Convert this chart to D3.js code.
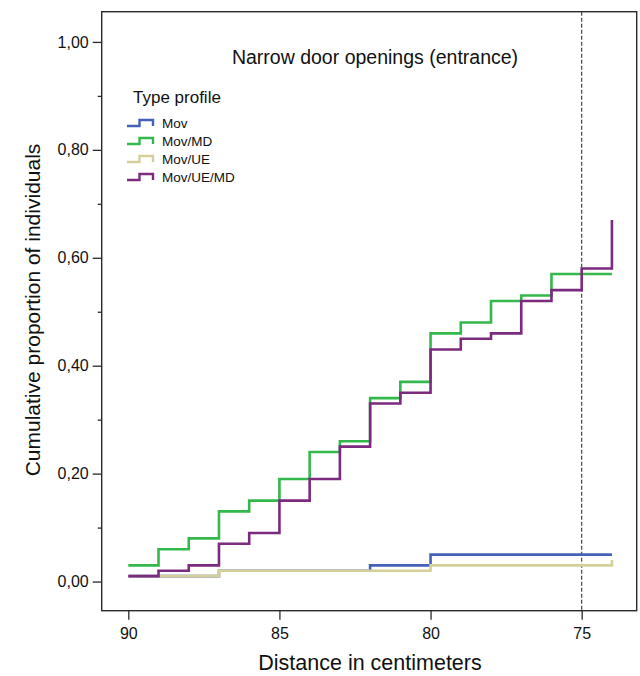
<!DOCTYPE html>
<html>

<head>
    <title>Narrow door openings</title>
    <script src="https://d3js.org/d3.v7.min.js"></script>
    <style>
        body { margin: 0; background: #fff; }
        text { font-family: "Liberation Sans", Arial, sans-serif; fill: #111; }
    </style>
</head>

<body>
    <svg width="640" height="676" id="mainSvg"></svg>
    <script>
        // distance steps (cm), read right-to-left on the axis
        const distances = [90, 89, 88, 87, 86, 85, 84, 83, 82, 81, 80, 79, 78, 77, 76, 75, 74];
        const mov      = [0.01, 0.01, 0.01, 0.02, 0.02, 0.02, 0.02, 0.02, 0.03, 0.03, 0.05, 0.05, 0.05, 0.05, 0.05, 0.05, 0.05];
        const movMD    = [0.03, 0.06, 0.08, 0.13, 0.15, 0.19, 0.24, 0.26, 0.34, 0.37, 0.46, 0.48, 0.52, 0.53, 0.57, 0.57, 0.57];
        const movUE    = [0.01, 0.01, 0.01, 0.02, 0.02, 0.02, 0.02, 0.02, 0.02, 0.02, 0.03, 0.03, 0.03, 0.03, 0.03, 0.03, 0.04];
        const movUEMD  = [0.01, 0.02, 0.03, 0.07, 0.09, 0.15, 0.19, 0.25, 0.33, 0.35, 0.43, 0.45, 0.46, 0.52, 0.54, 0.58, 0.67];

        const seriesNames = ["Mov", "Mov/MD", "Mov/UE", "Mov/UE/MD"];
        const seriesValues = [mov, movMD, movUE, movUEMD];
        const colors = ["#4461b6", "#33b84c", "#d5d09a", "#7b2a7f"];

        const xTicks = [90, 85, 80, 75];
        const yTicks = [0, 0.2, 0.4, 0.6, 0.8, 1.0];
        const yMinorTicks = [0.1, 0.3, 0.5, 0.7, 0.9];
        const cutoff = 75;

        const svg = d3.select("#mainSvg");

        const x = d3.scaleLinear().domain([90.88, 73.18]).range([101.7, 636.7]);
        const y = d3.scaleLinear().domain([-0.054, 1.056]).range([610.7, 11.7]);

        // frame
        svg.append("rect")
            .attr("x", x.range()[0]).attr("y", y.range()[1])
            .attr("width", x.range()[1] - x.range()[0])
            .attr("height", y.range()[0] - y.range()[1])
            .attr("fill", "none").attr("stroke", "#2a2a2a").attr("stroke-width", 1.4);

        // y axis
        const yAxis = svg.append("g")
            .attr("transform", `translate(${x.range()[0]},0)`)
            .call(d3.axisLeft(y).tickValues(yTicks).tickSize(9).tickPadding(4)
                .tickFormat(d => d3.format(".2f")(d).replace(".", ",")));
        yAxis.select(".domain").remove();
        yAxis.selectAll("line").attr("stroke", "#2a2a2a").attr("stroke-width", 1.3);
        yAxis.selectAll("text").style("font-size", "16px").attr("fill", "#111");

        const yMinor = svg.append("g")
            .attr("transform", `translate(${x.range()[0]},0)`)
            .call(d3.axisLeft(y).tickValues(yMinorTicks).tickSize(4).tickFormat(""));
        yMinor.select(".domain").remove();
        yMinor.selectAll("line").attr("stroke", "#2a2a2a").attr("stroke-width", 1.3);

        // x axis
        const xAxis = svg.append("g")
            .attr("transform", `translate(0,${y.range()[0]})`)
            .call(d3.axisBottom(x).tickValues(xTicks).tickSize(9).tickPadding(8));
        xAxis.select(".domain").remove();
        xAxis.selectAll("line").attr("stroke", "#2a2a2a").attr("stroke-width", 1.3);
        xAxis.selectAll("text").style("font-size", "16px").attr("fill", "#111");

        // cutoff line at 75 cm
        svg.append("line")
            .attr("x1", x(cutoff)).attr("x2", x(cutoff))
            .attr("y1", y.range()[1]).attr("y2", y.range()[0])
            .attr("stroke", "#333").attr("stroke-width", 1.1)
            .attr("stroke-dasharray", "4,2");

        // step lines
        const line = d3.line()
            .x(d => x(d[0]))
            .y(d => y(d[1]))
            .curve(d3.curveStepAfter);

        svg.selectAll(".dataPath")
            .data(seriesValues)
            .join("path")
            .attr("class", "dataPath")
            .attr("fill", "none")
            .attr("stroke", (d, i) => colors[i])
            .attr("stroke-width", 2.6)
            .attr("d", vals => line(distances.map((dist, i) => [dist, vals[i]])));

        // title
        svg.append("text")
            .attr("x", 375).attr("y", 64)
            .attr("text-anchor", "middle")
            .style("font-size", "19.5px")
            .text("Narrow door openings (entrance)");

        // legend
        svg.append("text")
            .attr("x", 133).attr("y", 103)
            .style("font-size", "17px")
            .text("Type profile");

        const legend = svg.selectAll(".legendItem")
            .data(seriesNames)
            .join("g")
            .attr("class", "legendItem")
            .attr("transform", (d, i) => `translate(127,${123 + i * 18})`);

        legend.append("path")
            .attr("d", "M0,3 H12.5 V-3 H26 V3")
            .attr("fill", "none")
            .attr("stroke", (d, i) => colors[i])
            .attr("stroke-width", 2.4);

        legend.append("text")
            .attr("x", 35).attr("y", 5)
            .style("font-size", "13.5px")
            .text(d => d);

        // axis titles
        svg.append("text")
            .attr("x", 370).attr("y", 670)
            .attr("text-anchor", "middle")
            .style("font-size", "21.5px")
            .text("Distance in centimeters");

        svg.append("text")
            .attr("transform", "translate(40,310) rotate(-90)")
            .attr("text-anchor", "middle")
            .style("font-size", "21px")
            .text("Cumulative proportion of individuals");
    </script>
</body>

</html>
